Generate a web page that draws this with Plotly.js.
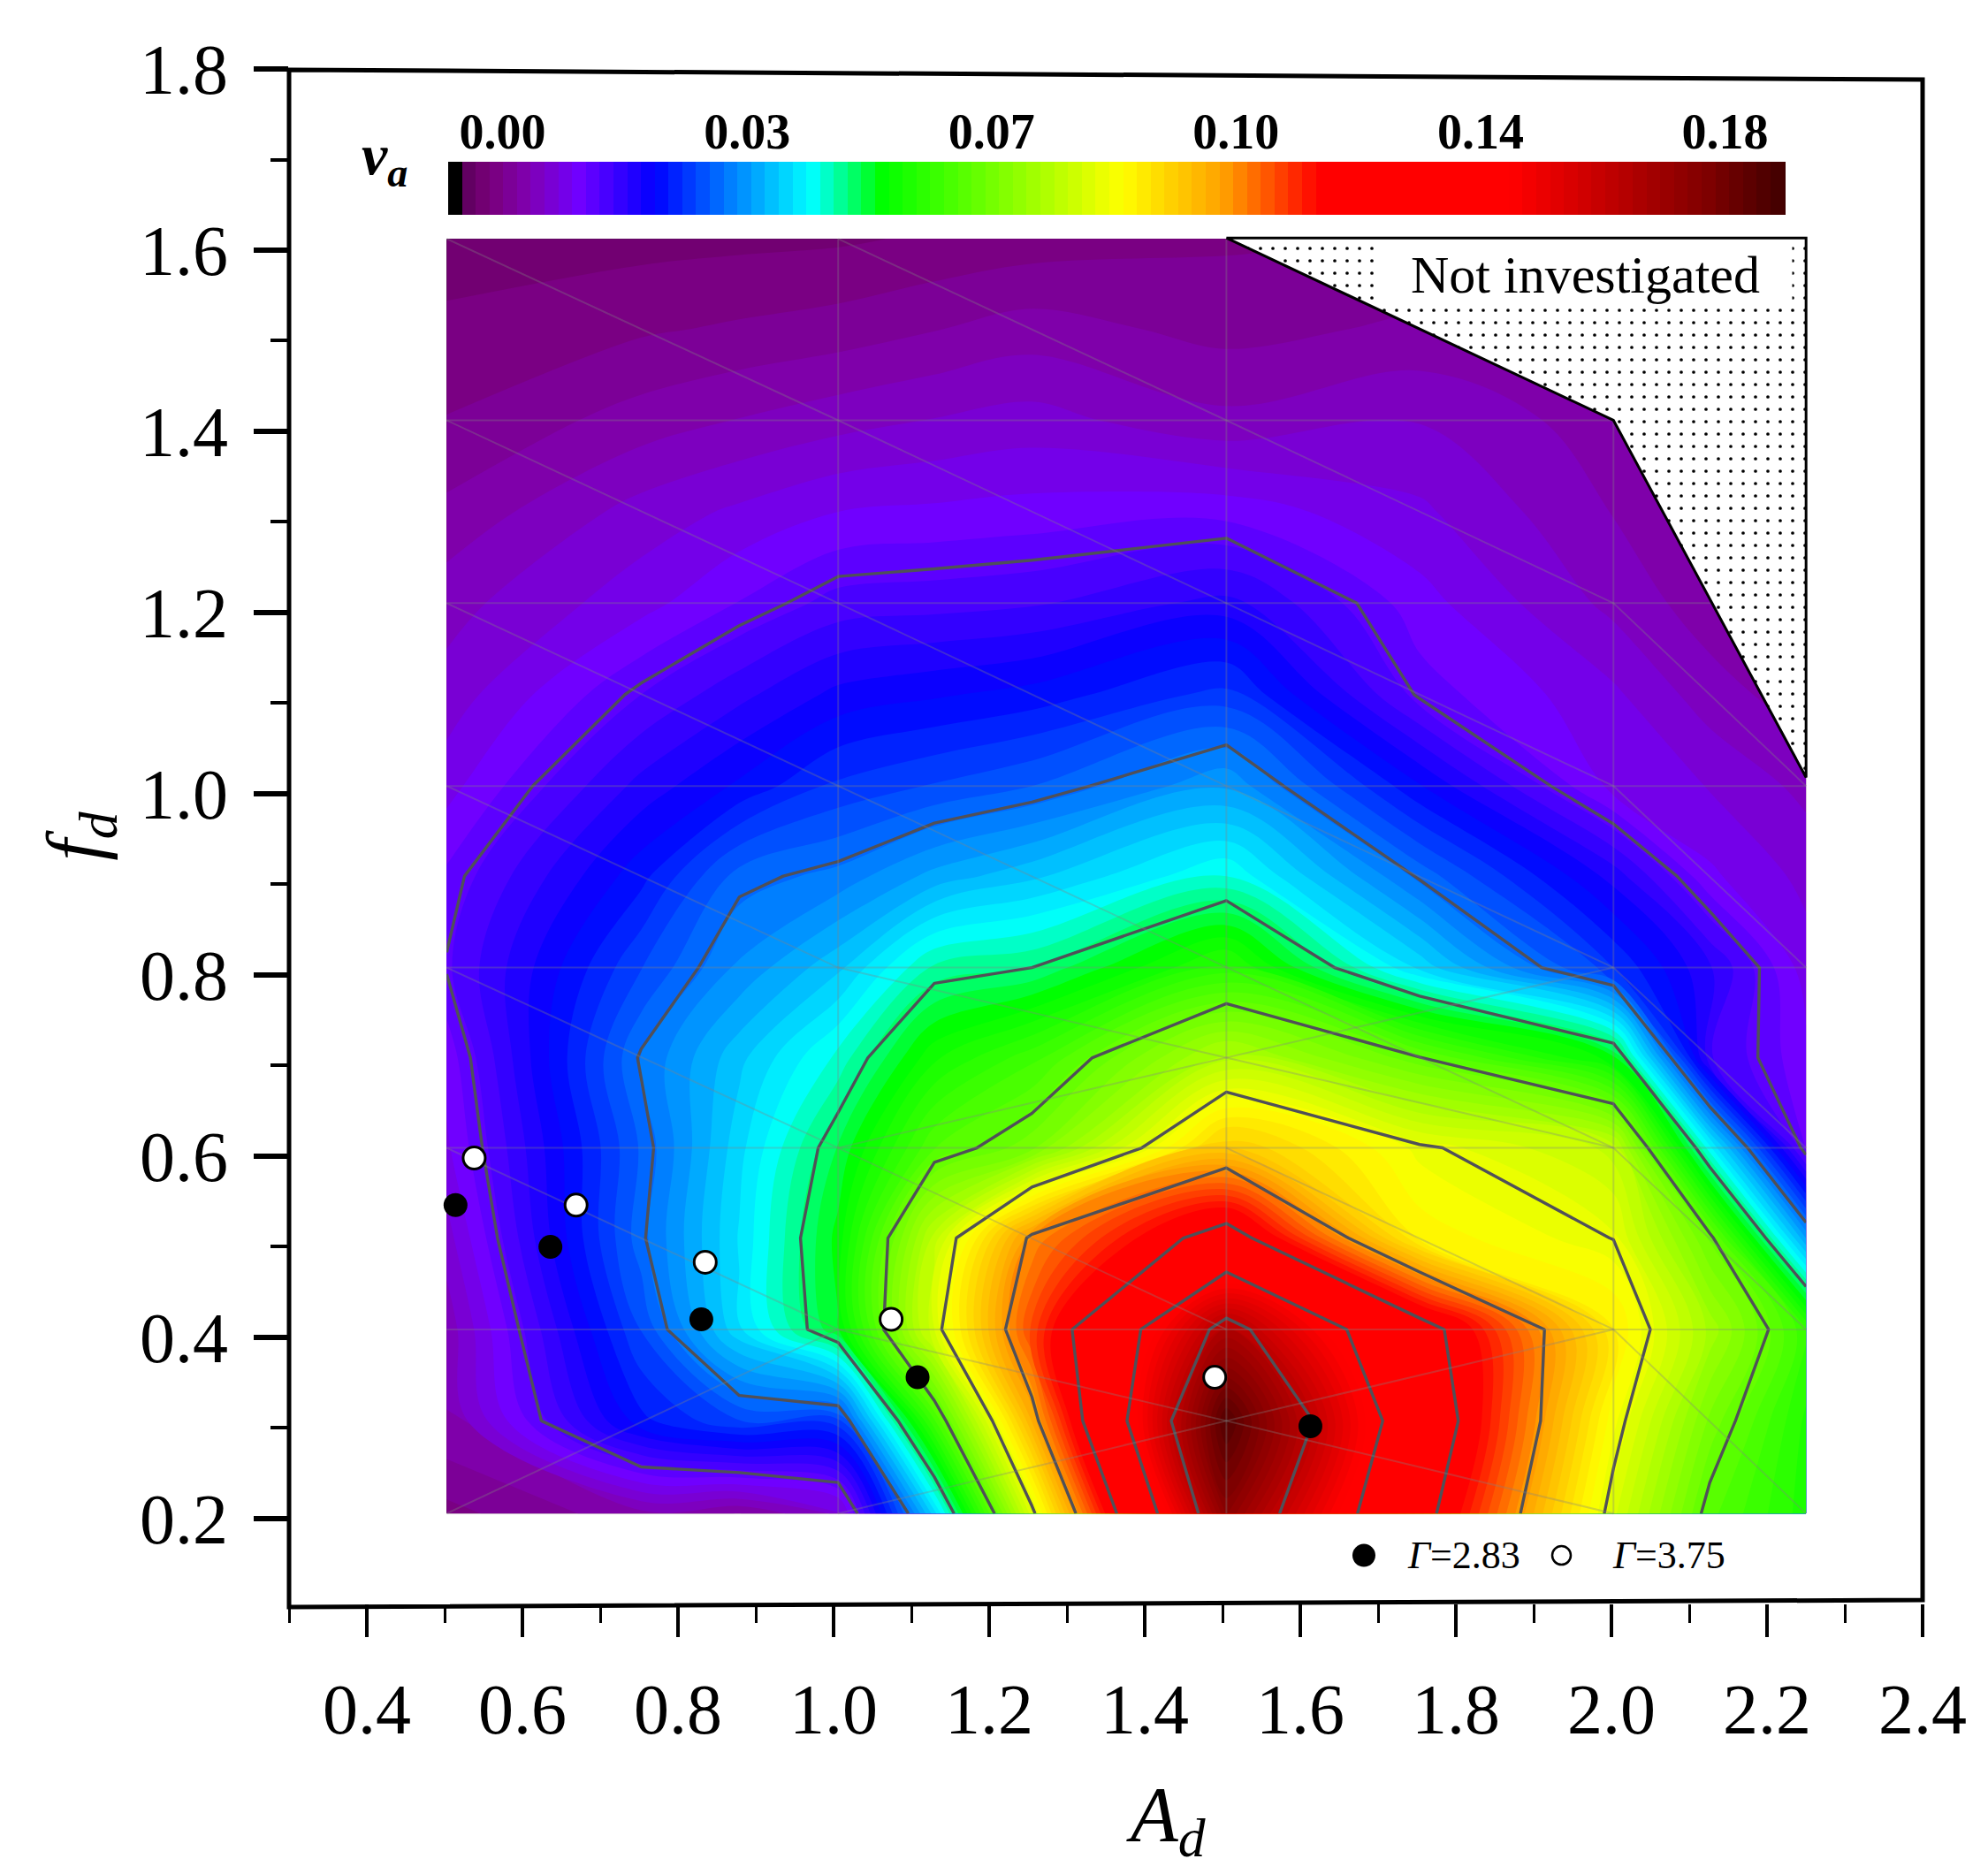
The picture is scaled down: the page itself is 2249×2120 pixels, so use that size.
<!DOCTYPE html>
<html>
<head>
<meta charset="utf-8">
<script src="https://cdn.plot.ly/plotly-3.0.1.min.js"></script>
<style>html,body{margin:0;padding:0;background:#fff}</style>
</head>
<body>
<div id="chart" style="width:2249px;height:2120px"></div>
<script>
const xGrid = [0.5026,0.7526,0.8788,1.0059,1.1296,1.2550,1.5050,1.7534,2.0026,2.1264,2.2502];
const yGrid = [0.2056,0.3079,0.4088,0.5097,0.6092,0.7087,0.8082,0.9091,1.0086,1.1095,1.2104,1.3113,1.4122,1.5130,1.6125];
const zRow020 = [-0.0006,0.0034,0.0020,0.0065,0.0412,0.0853,0.1724,0.1270,0.0847,0.0668,0.0590];
const zRow030 = [0.0040,0.0235,0.0280,0.0274,0.0638,0.1023,0.1827,0.1319,0.0888,0.0716,0.0596];
const zRow040 = [0.0048,0.0282,0.0417,0.0539,0.0846,0.1126,0.1644,0.1278,0.0924,0.0775,0.0626];
const zRow050 = [0.0072,0.0313,0.0423,0.0549,0.0810,0.1064,0.1281,0.0915,0.0866,0.0697,0.0360];
const zRow060 = [0.0097,0.0304,0.0414,0.0523,0.0660,0.0715,0.0984,0.0874,0.0815,0.0448,0.0117];
const zRow070 = [0.0109,0.0322,0.0395,0.0467,0.0577,0.0634,0.0795,0.0686,0.0547,0.0163,0.0107];
const zRow080 = [0.0137,0.0280,0.0345,0.0396,0.0485,0.0501,0.0610,0.0415,0.0261,0.0183,0.0090];
const zRow090 = [0.0125,0.0234,0.0310,0.0328,0.0368,0.0396,0.0461,0.0314,0.0193,0.0105,0.0075];
const zRow100 = [0.0093,0.0188,0.0225,0.0266,0.0283,0.0301,0.0358,0.0223,0.0093,0.0080,0.0055];
const zRow110 = [0.0069,0.0141,0.0175,0.0207,0.0218,0.0229,0.0269,0.0131,0.0085,0.0050,0.0030];
const zRow120 = [0.0053,0.0093,0.0122,0.0149,0.0153,0.0158,0.0189,0.0109,0.0055,0.0030,0.0010];
const zRow130 = [0.0026,0.0069,0.0085,0.0101,0.0105,0.0109,0.0113,0.0085,0.0040,0.0010,0.0000];
const zRow140 = [0.0002,0.0030,0.0042,0.0053,0.0062,0.0069,0.0046,0.0060,0.0030,0.0000,0.0000];
const zRow150 = [-0.0014,-0.0002,0.0004,0.0010,0.0020,0.0030,0.0014,0.0025,0.0000,0.0000,0.0000];
const zRow160 = [-0.0030,-0.0026,-0.0024,-0.0022,-0.0016,-0.0010,-0.0002,0.0000,0.0000,0.0000,0.0000];
const zGrid = [zRow020,zRow030,zRow040,zRow050,zRow060,zRow070,zRow080,zRow090,zRow100,zRow110,zRow120,zRow130,zRow140,zRow150,zRow160];

const scaleTickVals = [0,0.0355,0.071,0.1065,0.142,0.1775];
const scaleTickText = ['0.00','0.03','0.07','0.10','0.14','0.18'];
const lineLevelStart = 0.0135, lineLevelEnd = 0.16, lineLevelStep = 0.0183;
const zMin = -0.0079, zMax = 0.1863;

const gamma283A = [0.514,0.636,0.830,1.108,1.613];
const gamma283F = [0.546,0.500,0.420,0.356,0.302];
const gamma375A = [0.538,0.669,0.835,1.074,1.490];
const gamma375F = [0.598,0.546,0.483,0.420,0.356];

const notInvestigatedA = [1.505,2.0026,2.2502,2.2502,1.505];
const notInvestigatedF = [1.6135,1.4122,1.018,1.6135,1.6135];

// triangulation edges as [column,row] indexes into xGrid / yGrid
const meshPaths = [
  [[0,2],[10,2]],[[0,4],[10,4]],[[0,6],[10,6]],[[0,8],[10,8]],[[0,10],[10,10]],[[0,12],[10,12]],
  [[3,0],[3,14]],[[6,0],[6,14]],[[8,0],[8,14]],
  [[0,14],[3,12],[6,10],[8,8],[10,6]],
  [[3,14],[6,12],[8,10],[10,8]],
  [[0,12],[3,10],[6,8],[8,6],[10,4]],
  [[0,10],[3,8],[6,6],[8,4],[10,2]],
  [[0,8],[3,6],[6,5],[8,4]],
  [[0,6],[3,4],[6,2]],
  [[0,4],[3,2],[6,1],[8,0]],
  [[6,4],[8,2],[10,0]],
  [[0,0],[3,2]],
  [[3,0],[6,1],[8,2]],
  [[3,4],[6,5],[8,6]]
];
const meshX = [], meshY = [];
meshPaths.forEach(p => { p.forEach(n => { meshX.push(xGrid[n[0]]); meshY.push(yGrid[n[1]]); }); meshX.push(null); meshY.push(null); });

const rainbow = [
  [0,'#000000'],[0.0095,'#000000'],[0.0100,'#5a005a'],[0.03,'#780078'],[0.06,'#8000b0'],
  [0.098,'#7000ff'],[0.155,'#0000ff'],[0.212,'#0080ff'],[0.272,'#00ffff'],[0.325,'#00ff00'],
  [0.504,'#ffff00'],[0.58,'#ffa000'],[0.652,'#ff0000'],[0.797,'#ff0000'],[0.941,'#800000'],[1,'#400000']
];
const serif = '"Liberation Serif","Times New Roman",serif';

const traces = [
  {type:'contour', x:xGrid, y:yGrid, z:zGrid, zmin:zMin, zmax:zMax, colorscale:rainbow, autocontour:false,
   contours:{coloring:'fill', start:zMin, end:zMax, size:0.002, showlines:false}, line:{width:0},
   hoverinfo:'skip', showlegend:false,
   colorbar:{orientation:'h', x:0.5068, xanchor:'center', y:0.905, yanchor:'bottom',
     lenmode:'pixels', len:1513, thicknessmode:'pixels', thickness:60, xpad:0, ypad:0,
     outlinewidth:0, borderwidth:0, tickmode:'array', tickvals:scaleTickVals, ticktext:scaleTickText,
     ticks:'inside', ticklen:72, tickcolor:'rgba(0,0,0,0)', ticklabelposition:'inside',
     tickfont:{family:serif, size:56, color:'#000', weight:'bold'}}},
  {type:'contour', x:xGrid, y:yGrid, z:zGrid, showscale:false, autocontour:false,
   contours:{coloring:'none', start:lineLevelStart, end:lineLevelEnd, size:lineLevelStep, showlines:true},
   line:{color:'#505058', width:3.4, smoothing:0}, hoverinfo:'skip', showlegend:false},
  {type:'scatter', mode:'lines', x:meshX, y:meshY, line:{color:'rgba(130,130,130,0.33)', width:2},
   hoverinfo:'skip', showlegend:false},
  {type:'scatter', mode:'lines', x:notInvestigatedA, y:notInvestigatedF, fill:'toself', fillcolor:'white',
   fillpattern:{shape:'.', size:14, solidity:0.055, fgcolor:'#000', bgcolor:'#fff', fgopacity:1},
   line:{color:'#000', width:3}, hoverinfo:'skip', showlegend:false},
  {type:'scatter', mode:'markers', name:'Γ=2.83', x:gamma283A, y:gamma283F,
   marker:{color:'#000', size:27, line:{color:'#000', width:0}}, showlegend:false},
  {type:'scatter', mode:'markers', name:'Γ=3.75', x:gamma375A, y:gamma375F,
   marker:{color:'#fff', size:25, line:{color:'#000', width:3}}, showlegend:false},
  {type:'scatter', mode:'markers', x:[1.6818], y:[0.1594], marker:{color:'#000', size:26}, hoverinfo:'skip', showlegend:false},
  {type:'scatter', mode:'markers', x:[1.9358], y:[0.1594], marker:{color:'#fff', size:21, line:{color:'#000', width:2.5}}, hoverinfo:'skip', showlegend:false}
];

const layout = {
  width:2249, height:2120, paper_bgcolor:'#fff', plot_bgcolor:'#fff',
  margin:{l:327, r:74, t:78, b:306, pad:0}, showlegend:false,
  font:{family:serif, color:'#000'},
  xaxis:{range:[0.3,2.4], tick0:0.2, dtick:0.2, tickformat:'.1f', showgrid:false, zeroline:false, showline:false,
    ticks:'outside', ticklen:37, tickwidth:4, tickcolor:'#000', ticklabelstandoff:13,
    minor:{dtick:0.1, ticks:'outside', ticklen:21, tickwidth:3, tickcolor:'#000', showgrid:false},
    tickfont:{family:serif, size:80, color:'#000'}},
  yaxis:{range:[0.1063,1.8], tick0:0.2, dtick:0.2, tickformat:'.1f', showgrid:false, zeroline:false, showline:false,
    ticks:'outside', ticklen:39, tickwidth:6, tickcolor:'#000', ticklabelstandoff:13,
    minor:{dtick:0.1, ticks:'outside', ticklen:20, tickwidth:4, tickcolor:'#000', showgrid:false},
    tickfont:{family:serif, size:80, color:'#000'},
    title:{text:'<i>f<sub>d</sub></i>', font:{family:serif, size:88, color:'#000'}, standoff:14}},
  shapes:[{type:'path', xref:'paper', yref:'paper', path:'M 0 0.9994 L 1 0.9931 L 1 0.0023 L 0 -0.0023 Z',
    line:{color:'#000', width:5}, fillcolor:'rgba(0,0,0,0)', layer:'above'}],
  annotations:[
    {xref:'x', yref:'y', x:1.9668, y:1.5725, text:'Not investigated', showarrow:false, width:465, height:70,
     bgcolor:'#fff', font:{family:serif, size:60, color:'#000'}, align:'center', valign:'middle'},
    {xref:'x', yref:'y', x:0.423, y:1.7014, text:'<b><i>v<sub>a</sub></i></b>', showarrow:false,
     font:{family:serif, size:66, color:'#000'}},
    {xref:'x', yref:'y', x:1.8104, y:0.1594, text:'<i>Γ</i>=2.83', showarrow:false, font:{family:serif, size:44, color:'#000'}},
    {xref:'x', yref:'y', x:2.0743, y:0.1594, text:'<i>Γ</i>=3.75', showarrow:false, font:{family:serif, size:44, color:'#000'}},
    {xref:'paper', yref:'paper', x:0.5368, y:-0.1406, text:'<i>A<sub>d</sub></i>', showarrow:false, xanchor:'center', yanchor:'middle',
     font:{family:serif, size:88, color:'#000'}}
  ]
};
Plotly.newPlot('chart', traces, layout, {displayModeBar:false, responsive:false}).then(() => {
  // Plotly ends each subscript with an empty zero-width tspan; drop those placeholders.
  document.querySelectorAll('svg tspan').forEach(e => { if (e.textContent === '\u200b') e.remove(); });
});
</script>
</body>
</html>
